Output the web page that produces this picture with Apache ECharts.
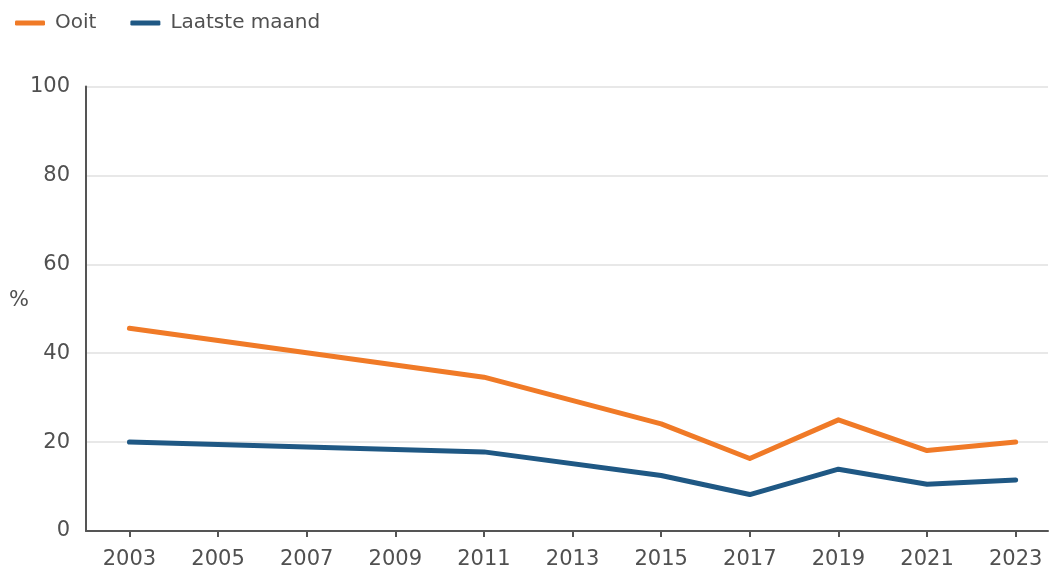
<!DOCTYPE html>
<html>
<head>
<meta charset="utf-8">
<script src="https://cdn.jsdelivr.net/npm/echarts@6/dist/echarts.min.js"></script>
<style>html,body{margin:0;padding:0;background:#fff}#c{width:1049px;height:570px}</style>
</head>
<body>
<div id="c"></div>
<script>
const years = [2003, 2011, 2015, 2017, 2019, 2021, 2023];
const ooit = [45.6, 34.6, 24.1, 16.3, 25.0, 18.1, 20.0];
const laatsteMaand = [20.0, 17.8, 12.5, 8.2, 13.9, 10.5, 11.5];
const tickYears = [2003, 2005, 2007, 2009, 2011, 2013, 2015, 2017, 2019, 2021, 2023];
const seriesNames = ['Ooit', 'Laatste maand'];

const font = 'DejaVu Sans';
const textColor = '#505050';
const chart = echarts.init(document.getElementById('c'));
chart.setOption({
  animation: false,
  textStyle: { fontFamily: font },
  legend: {
    left: 10, top: 8,
    itemWidth: 30, itemHeight: 5, itemGap: 34,
    icon: 'roundRect',
    textStyle: { fontFamily: font, fontSize: 20, color: textColor, padding: [0, 0, 0, 5] },
    data: seriesNames
  },
  graphic: [{
    type: 'text', left: 9, top: 290,
    style: { text: '%', fontFamily: font, fontSize: 21, fill: textColor }
  }],
  grid: { left: 86, right: 1, top: 86.5, bottom: 37.5, containLabel: false },
  xAxis: {
    type: 'value', min: 2002.02, max: 2023.73,
    axisLine: { show: true, lineStyle: { color: '#555', width: 2 } },
    axisTick: { show: true, customValues: tickYears, length: 6, lineStyle: { color: '#555', width: 2 } },
    axisLabel: { customValues: tickYears, color: textColor, fontSize: 21, fontFamily: font, margin: 18,
      formatter: v => String(v) },
    splitLine: { show: false }
  },
  yAxis: {
    type: 'value', min: 0, max: 100, interval: 20,
    axisLine: { show: true, lineStyle: { color: '#555', width: 2 } },
    axisTick: { show: false },
    axisLabel: { color: textColor, fontSize: 21, fontFamily: font, margin: 16 },
    splitLine: { lineStyle: { color: '#e8e8e8', width: 2 } }
  },
  series: [
    {
      name: seriesNames[0], type: 'line', showSymbol: false, symbol: 'none',
      data: years.map((y, i) => [y, ooit[i]]),
      lineStyle: { color: '#F07A27', width: 5, cap: 'round', join: 'round' },
      itemStyle: { color: '#F07A27' }
    },
    {
      name: seriesNames[1], type: 'line', showSymbol: false, symbol: 'none',
      data: years.map((y, i) => [y, laatsteMaand[i]]),
      lineStyle: { color: '#1F5884', width: 5, cap: 'round', join: 'round' },
      itemStyle: { color: '#1F5884' }
    }
  ]
});
</script>
</body>
</html>
